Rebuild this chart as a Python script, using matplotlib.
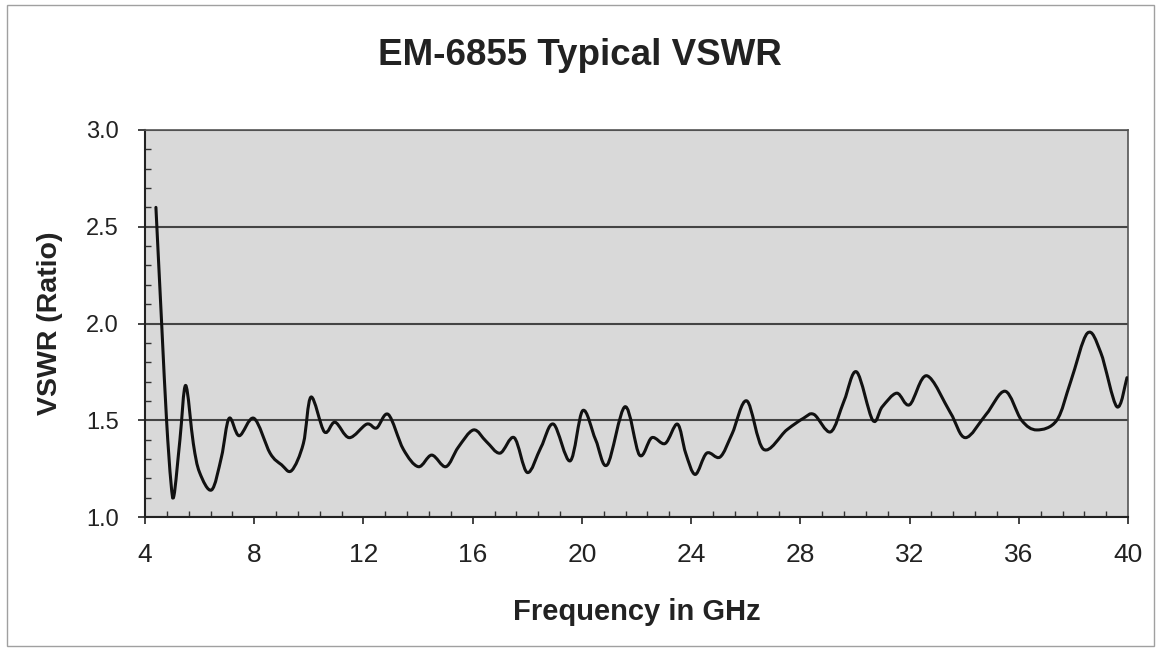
import matplotlib
matplotlib.use("Agg")
import matplotlib.pyplot as plt
import numpy as np
from matplotlib.path import Path
from matplotlib.patches import PathPatch, Rectangle
from matplotlib.ticker import MultipleLocator

# frequency in GHz, VSWR
freq = [4.4, 4.61, 4.79, 4.95, 5.06, 5.28, 5.49, 5.77, 6.0, 6.44, 6.8, 7.08, 7.45,
        7.99, 8.58, 9.0, 9.37, 9.8, 10.08, 10.57, 10.96, 11.48, 12.12, 12.48,
        12.91, 13.46, 14.01, 14.5, 15.02, 15.47, 16.03, 16.5, 17.0, 17.52, 18.0,
        18.5, 18.96, 19.57, 20.03, 20.5, 20.93, 21.58, 22.11, 22.56, 23.05, 23.5,
        23.8, 24.15, 24.57, 25.06, 25.5, 26.04, 26.65, 27.5, 28.11, 28.5, 29.11,
        29.6, 30.06, 30.65, 31.0, 31.53, 32.0, 32.63, 33.49, 34.04, 34.8, 35.5,
        36.1, 36.66, 37.39, 37.9, 38.51, 39.0, 39.59, 39.96]
vswr = [2.60, 2.00, 1.50, 1.18, 1.11, 1.40, 1.68, 1.38, 1.23, 1.14, 1.31, 1.51, 1.42,
        1.51, 1.33, 1.27, 1.24, 1.38, 1.62, 1.44, 1.49, 1.41, 1.48, 1.46,
        1.53, 1.35, 1.26, 1.32, 1.26, 1.36, 1.45, 1.39, 1.33, 1.41, 1.23,
        1.36, 1.48, 1.29, 1.55, 1.40, 1.27, 1.57, 1.32, 1.41, 1.38, 1.48,
        1.33, 1.22, 1.33, 1.31, 1.43, 1.60, 1.35, 1.45, 1.51, 1.53, 1.44,
        1.60, 1.75, 1.50, 1.57, 1.64, 1.58, 1.73, 1.54, 1.41, 1.53, 1.65,
        1.50, 1.45, 1.50, 1.70, 1.95, 1.85, 1.57, 1.72]

x_ticks = [4, 8, 12, 16, 20, 24, 28, 32, 36, 40]
y_ticks = [1.0, 1.5, 2.0, 2.5, 3.0]

plt.rcParams["font.family"] = ["Liberation Sans", "DejaVu Sans"]


def smooth_path(xs, ys):
    # excel style smoothed line: cubic bezier segments through every point
    pts = np.column_stack([xs, ys])
    verts = [pts[0]]
    codes = [Path.MOVETO]
    n = len(pts)
    for i in range(n - 1):
        p0 = pts[max(i - 1, 0)]
        p1 = pts[i]
        p2 = pts[i + 1]
        p3 = pts[min(i + 2, n - 1)]
        c1 = p1 + (p2 - p0) / 6.0
        c2 = p2 - (p3 - p1) / 6.0
        verts += [c1, c2, p2]
        codes += [Path.CURVE4] * 3
    return Path(verts, codes)


fig = plt.figure(figsize=(11.59, 6.5), dpi=100)
fig.patch.set_facecolor("white")
fig.add_artist(Rectangle((0.006, 0.006), 0.99, 0.986, transform=fig.transFigure,
                         fill=False, edgecolor="#a0a0a0", linewidth=1.0))

ax = fig.add_axes([0.1251, 0.2046, 0.8482, 0.5954])
ax.set_facecolor("#d9d9d9")

ax.add_patch(PathPatch(smooth_path(freq, vswr), fill=False, edgecolor="#111111",
                       linewidth=2.2, zorder=3, capstyle="round", joinstyle="round"))

ax.set_xlim(4, 40)
ax.set_ylim(1.0, 3.0)
ax.set_xticks(x_ticks)
ax.set_yticks(y_ticks)
ax.set_yticklabels([f"{v:.1f}" for v in y_ticks])
ax.xaxis.set_minor_locator(MultipleLocator(0.8))
ax.yaxis.set_minor_locator(MultipleLocator(0.1))
ax.tick_params(axis="both", which="major", direction="out", length=5, width=1.2,
               colors="#222222")
ax.tick_params(axis="x", which="major", labelsize=19, pad=14)
ax.tick_params(axis="y", which="major", labelsize=17, pad=14)
ax.tick_params(axis="both", which="minor", direction="in", length=4, width=1.0,
               colors="#333333")

ax.grid(axis="y", which="major", color="#444444", linewidth=1.5)
ax.set_axisbelow(True)

for side in ["left", "bottom"]:
    ax.spines[side].set_color("#222222")
    ax.spines[side].set_linewidth(1.5)
for side in ["top", "right"]:
    ax.spines[side].set_color("#555555")
    ax.spines[side].set_linewidth(1.2)

ax.set_xlabel("Frequency in GHz", fontsize=21, fontweight="bold", color="#222222")
ax.set_ylabel("VSWR (Ratio)", fontsize=20.5, fontweight="bold", color="#222222")
ax.xaxis.set_label_coords(0.5, -0.245)
ax.yaxis.set_label_coords(-0.0966, 0.5)
ax.xaxis.label.set_va("center")
ax.yaxis.label.set_va("center")

fig.text(0.5, 0.915, "EM-6855 Typical VSWR", ha="center", va="center",
         fontsize=26.5, fontweight="bold", color="#222222")

fig.savefig("out.png", dpi=100)
